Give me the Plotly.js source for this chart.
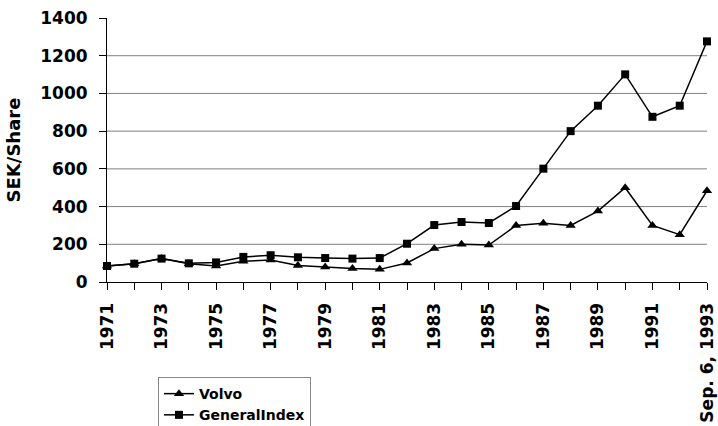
<!DOCTYPE html>
<html>
<head>
<meta charset="utf-8">
<script src="https://cdn.plot.ly/plotly-3.0.1.min.js"></script>
<style>html,body{margin:0;padding:0;background:#fff;}#chart{width:718px;height:426px;}</style>
</head>
<body>
<div id="chart"></div>
<script>
const categories = ["1971","1972","1973","1974","1975","1976","1977","1978","1979","1980","1981","1982","1983","1984","1985","1986","1987","1988","1989","1990","1991","1992","Sep. 6, 1993"];
const volvo = [85, 97, 124, 97, 85, 110, 117, 88, 80, 71, 67, 101, 177, 200, 196, 300, 311, 300, 376, 500, 300, 251, 484];
const generalIndex = [85, 97, 124, 99, 104, 133, 142, 131, 127, 124, 127, 203, 302, 318, 313, 403, 601, 800, 935, 1101, 876, 935, 1276];
const tickLabels = ["1971","","1973","","1975","","1977","","1979","","1981","","1983","","1985","","1987","","1989","","1991","","Sep. 6, 1993"];
const yTicks = [0, 200, 400, 600, 800, 1000, 1200, 1400];
const gridValues = [200, 400, 600, 800, 1000, 1200];

const boldFont = {family: "DejaVu Sans", size: 17, color: "#000", weight: 700};

const traces = [
  {x: categories, y: volvo, name: "Volvo", type: "scatter", mode: "lines+markers",
   line: {color: "#000", width: 1.5}, marker: {symbol: "triangle-up", size: 9, color: "#000"}, cliponaxis: false},
  {x: categories, y: generalIndex, name: "GeneralIndex", type: "scatter", mode: "lines+markers",
   line: {color: "#000", width: 1.5}, marker: {symbol: "square", size: 8, color: "#000"}, cliponaxis: false}
];

const gridShapes = gridValues.map(v => ({type: "line", xref: "paper", x0: 0, x1: 1, yref: "y", y0: v, y1: v,
  line: {color: "#808080", width: 1}, layer: "below"}));

const layout = {
  width: 718, height: 426,
  margin: {l: 107, r: 11, t: 18, b: 144, autoexpand: false},
  paper_bgcolor: "#fff", plot_bgcolor: "#fff",
  showlegend: true,
  legend: {x: 0.085, y: -0.36, xanchor: "left", yanchor: "top",
           bordercolor: "#888", borderwidth: 1, bgcolor: "#fff",
           font: {family: "DejaVu Sans", size: 14, color: "#000", weight: 700},
           itemwidth: 30, tracegroupgap: 0},
  shapes: gridShapes,
  xaxis: {type: "category", range: [0, 22], tickmode: "array", tickvals: categories, ticktext: tickLabels,
          tickangle: -90, tickfont: boldFont, ticks: "outside", ticklen: 7, tickcolor: "#000",
          ticklabelstandoff: 6,
          showline: true, linecolor: "#000", linewidth: 1, showgrid: false, zeroline: false, automargin: false},
  yaxis: {range: [0, 1400], tickmode: "array", tickvals: yTicks, tickfont: boldFont,
          ticks: "outside", ticklen: 7, tickcolor: "#000", ticklabelstandoff: 8,
          showline: true, linecolor: "#000", linewidth: 1,
          showgrid: false, zeroline: false, automargin: true,
          title: {text: "SEK/Share", standoff: 14, font: {family: "DejaVu Sans", size: 18, color: "#000", weight: 700}}}
};

Plotly.newPlot("chart", traces, layout, {staticPlot: true, displayModeBar: false});
</script>
</body>
</html>
